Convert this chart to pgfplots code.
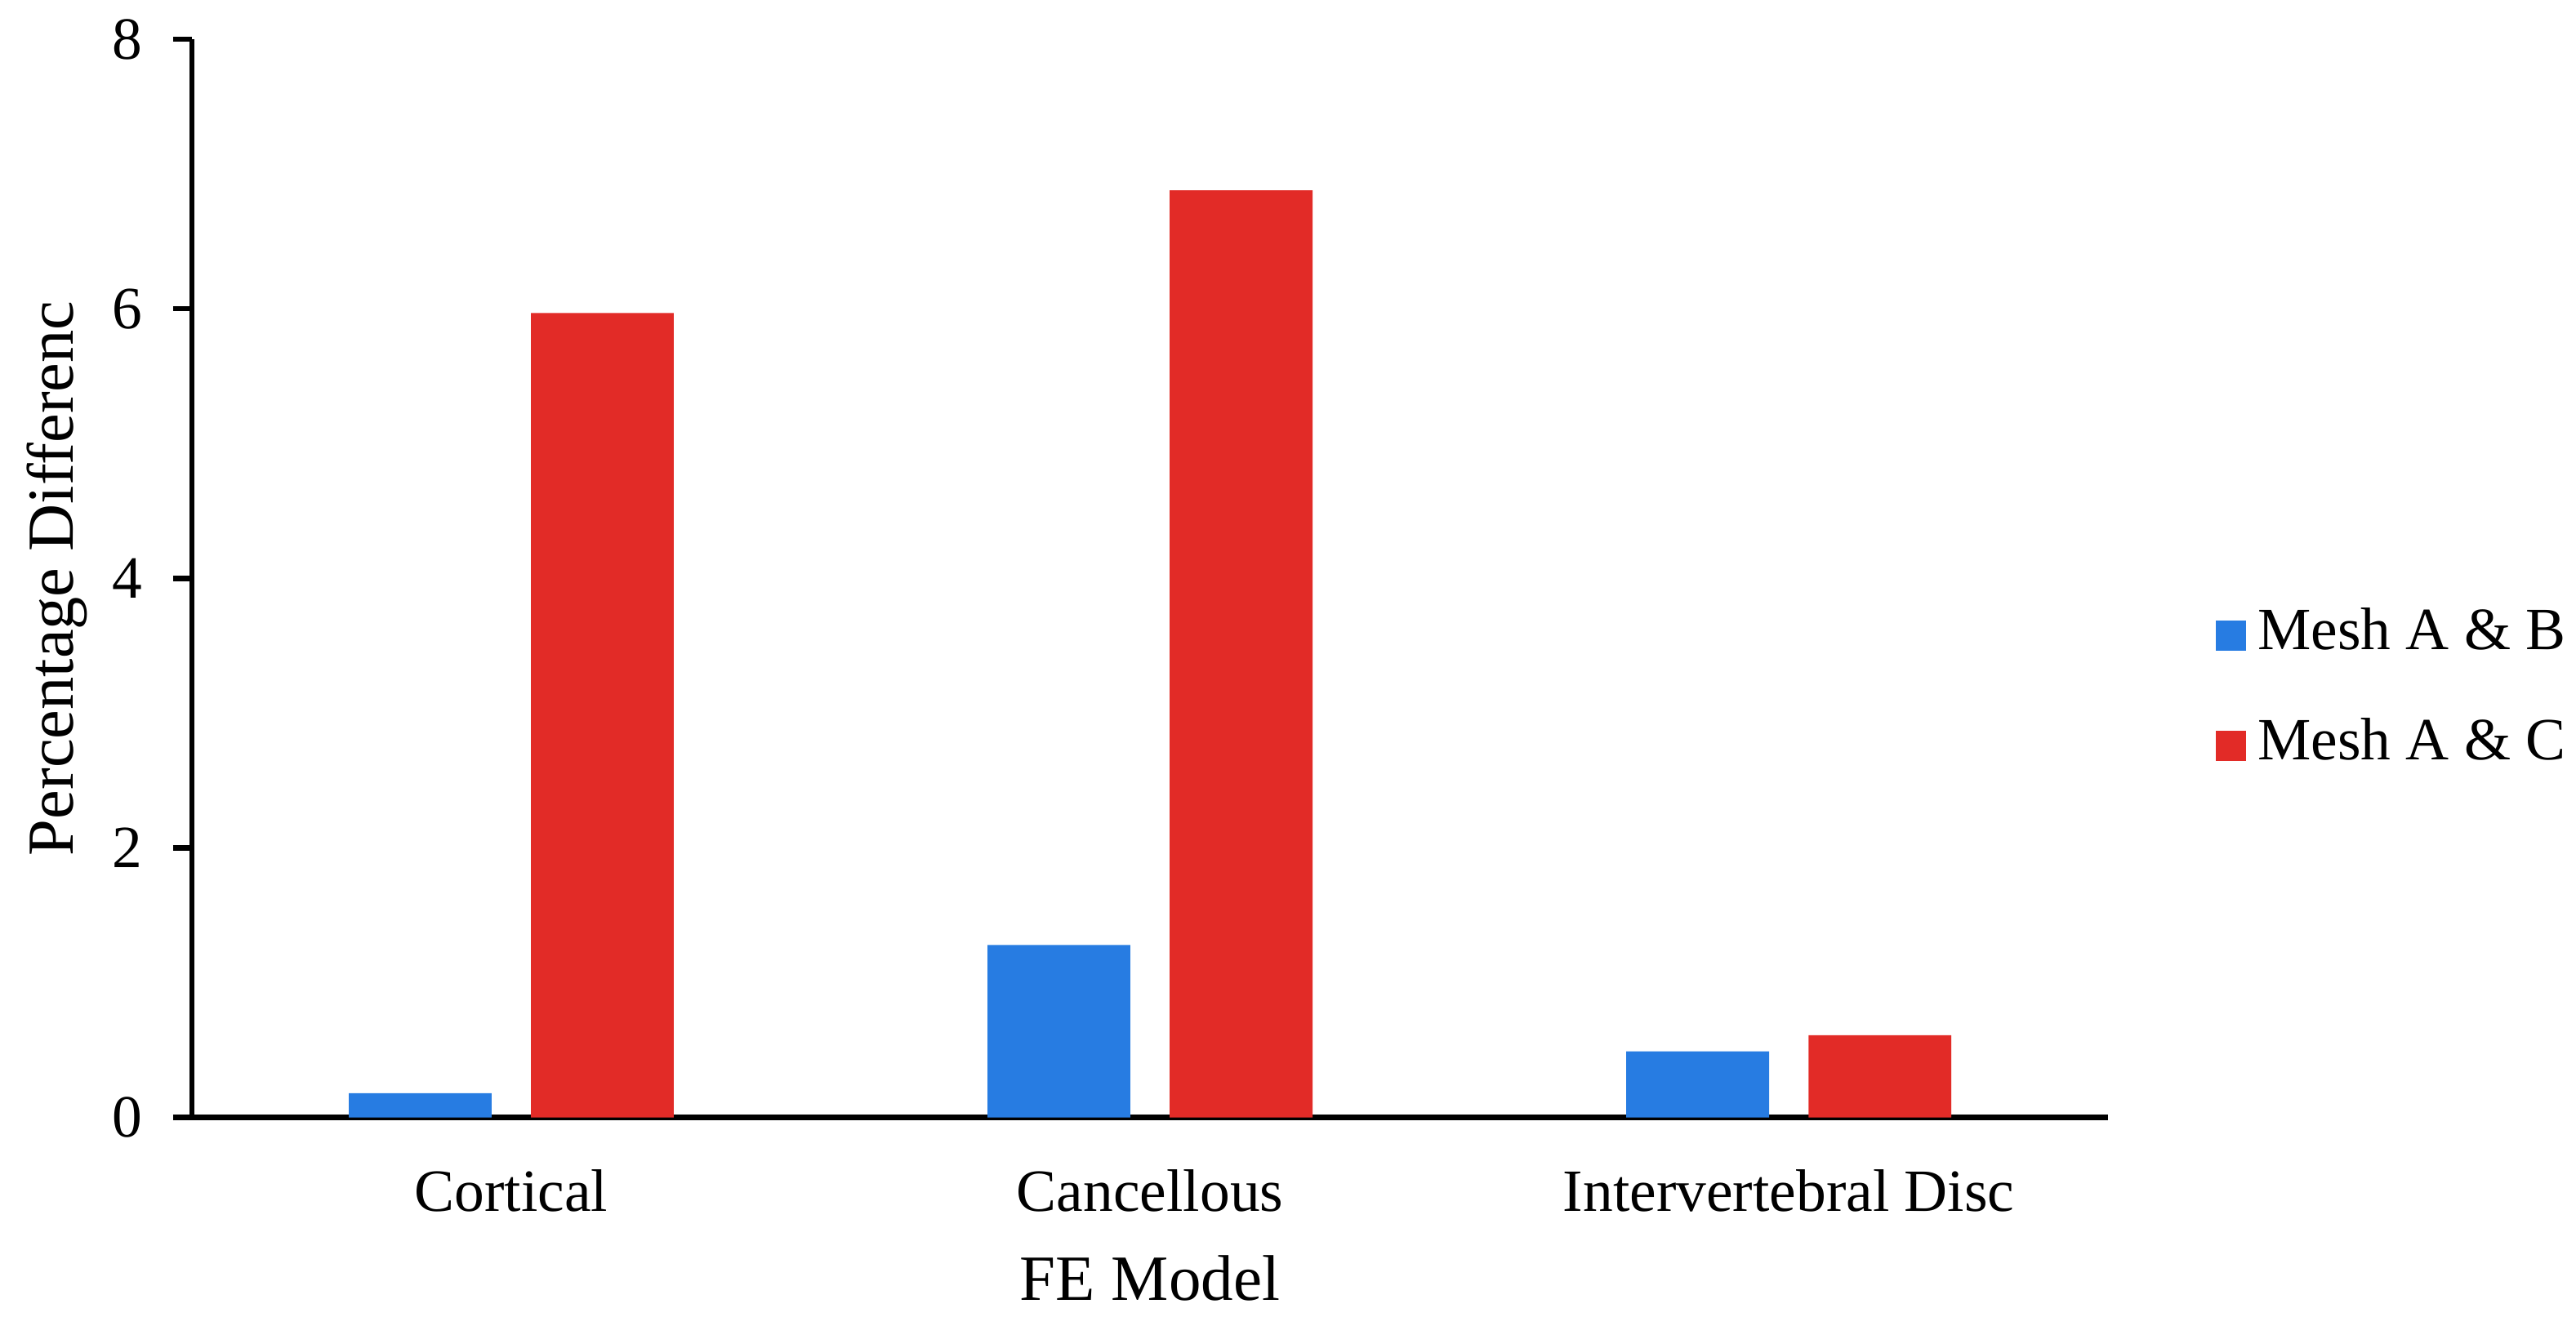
\documentclass[border=0pt]{standalone}
\usepackage{fontspec}
\setmainfont{Liberation Serif}
\usepackage{pgfplots}
\pgfplotsset{compat=1.18}
\definecolor{barblue}{RGB}{39,124,226}
\definecolor{barred}{RGB}{226,43,39}
\begin{document}
\begin{tikzpicture}
\useasboundingbox (-33.6pt,-36.5pt) rectangle (417.4pt,195.7pt);
\begin{axis}[
  scale only axis,
  width=335.5pt, height=188.8pt,
  xmin=-0.5, xmax=2.5, ymin=0, ymax=8,
  axis x line*=bottom, axis y line*=left,
  axis line style={line width=0.9pt},
  ytick={0,2,4,6,8},
  xtick={0,1,2},
  xticklabels={Cortical,Cancellous,Intervertebral Disc},
  x tick style={draw=none},
  y tick style={line width=0.9pt, black},
  tick align=outside,
  major tick length=3.3pt,
  /pgf/number format/assume math mode=true,
  ticklabel style={font=\fontsize{10.5pt}{12pt}\selectfont},
  yticklabel style={xshift=-1.8pt},
  xticklabel style={yshift=-2.3pt},
  ylabel={Percentage Differenc},
  xlabel={FE Model},
  every axis y label/.style={at={(axis description cs:-0.0703,0.5)}, rotate=90, anchor=center, font=\fontsize{11.5pt}{13pt}\selectfont},
  every axis x label/.style={at={(axis description cs:0.5,0)}, anchor=center, yshift=-28.2pt, font=\fontsize{11.3pt}{13pt}\selectfont},
  ybar=6.9pt, bar width=25pt,
  legend style={draw=none, fill=none, at={(axis description cs:1.0554,0.396)}, anchor=west,
    inner sep=0pt, row sep=10.3pt, column sep=2.1pt, font=\fontsize{10.5pt}{12pt}\selectfont,
    nodes={inner sep=0pt, text height=7pt, text depth=2pt}},
  legend cell align=left,
  legend image code/.code={\fill[#1] (0pt,-2.65pt) rectangle (5.3pt,2.65pt);},
]
\addplot[fill=barblue, draw=none] coordinates {(0,0.18) (1,1.28) (2,0.49)};
\addplot[fill=barred, draw=none] coordinates {(0,5.97) (1,6.88) (2,0.61)};
\legend{Mesh A \& B, Mesh A \& C}
\end{axis}
\end{tikzpicture}
\end{document}
